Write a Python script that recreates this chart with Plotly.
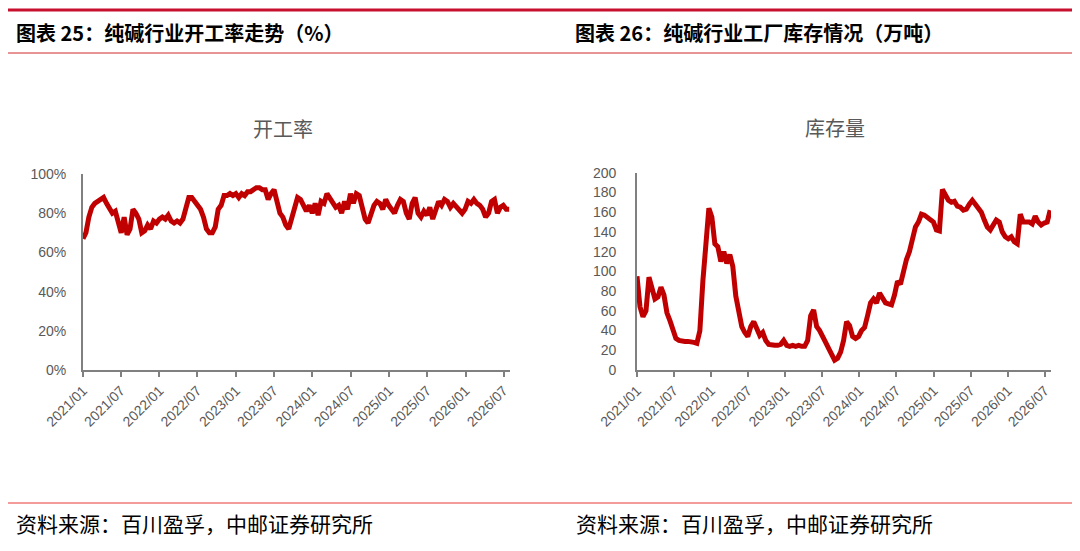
import pandas as pd
import plotly.graph_objects as go

# 开工率 (%), roughly every two weeks
rate_values = [
    67, 70, 78, 83, 85, 86, 86.5, 88, 85, 82, 80, 81, 76, 70, 78, 69, 72, 82, 80, 77,
    70, 71, 74, 72, 76, 75, 77, 78, 77, 79, 76, 75, 76, 75, 77, 84, 88, 88, 86, 84,
    82, 78, 72, 70, 70, 73, 82, 84, 89, 89, 90, 89, 90, 88, 90, 89, 91, 91, 92, 93,
    93, 92, 92, 87, 90, 92, 86, 80, 78, 74, 72, 78, 84, 88, 87, 84, 81, 84, 80, 85,
    79, 86, 85, 90, 88, 86, 83, 84, 80, 86, 82, 90, 85, 90, 89, 83, 77, 75, 80, 84,
    86, 85, 82, 87, 84, 82, 80, 84, 87, 86, 80, 77, 85, 88, 80, 78, 81, 79, 83, 77,
    81, 86, 84, 87, 86, 83, 85, 83, 82, 80, 82, 86, 85, 87, 85, 84, 82, 78, 80, 86,
    87, 80, 83, 84, 82, 82,
]

# 库存量 (万吨)
stock_values = [
    95, 64, 54, 60, 94, 81, 72, 74, 84, 76, 58, 50, 40, 32, 30, 29, 29, 29, 29, 28,
    27, 40, 90, 130, 164, 155, 128, 125, 110, 120, 108, 117, 105, 75, 58, 44, 38, 34, 44, 49,
    42, 35, 38, 30, 26, 25, 25, 25, 26, 30, 25, 24, 25, 24, 25, 24, 24, 30, 55, 61,
    44, 40, 35, 28, 22, 17, 10, 12, 18, 30, 49, 45, 34, 32, 34, 40, 43, 55, 68, 72,
    68, 78, 72, 68, 67, 66, 76, 90, 87, 100, 112, 120, 135, 145, 150, 158, 157, 155, 153, 150,
    142, 141, 183, 177, 172, 170, 171, 166, 165, 162, 163, 168, 172, 168, 164, 160, 152, 145, 142, 146,
    152, 150, 140, 135, 133, 135, 130, 128, 158, 150, 150, 150, 148, 156, 150, 147, 149, 150, 162,
]

rate_dates = pd.date_range("2021-01-01", "2026-07-28", periods=len(rate_values))
stock_dates = pd.date_range("2021-01-01", "2026-07-28", periods=len(stock_values))

header_left = "图表 25：纯碱行业开工率走势（%）"
header_right = "图表 26：纯碱行业工厂库存情况（万吨）"
source_text = "资料来源：百川盈孚，中邮证券研究所"

# the page body keeps its 8px margin, so the figure is 8px smaller than the window
OFF = 8
W, H = 1080 - OFF, 551 - OFF
LINE_RED = "#C00000"
AXIS_GRAY = "#808080"
TEXT_GRAY = "#595959"
TICK_FONT = dict(family="Liberation Sans", size=14, color=TEXT_GRAY)
CJK = "Noto Sans CJK SC"


def px_x(v):
    return max(0.0, (v - OFF) / W)


def px_y(v):
    return 1 - (v - OFF) / H


fig = go.Figure()
fig.add_trace(go.Scatter(x=rate_dates, y=rate_values, mode="lines",
                         line=dict(color=LINE_RED, width=5), xaxis="x", yaxis="y",
                         showlegend=False))
fig.add_trace(go.Scatter(x=stock_dates, y=stock_values, mode="lines",
                         line=dict(color=LINE_RED, width=5), xaxis="x2", yaxis="y2",
                         showlegend=False))

xaxis_common = dict(
    type="date", range=["2021-01-01", "2026-08-01"], tick0="2021-01-01", dtick="M6",
    tickformat="%Y/%m", tickangle=-45, ticks="outside", ticklen=5, tickwidth=1.5,
    tickcolor=AXIS_GRAY, showline=True, linecolor=AXIS_GRAY, linewidth=1.8,
    showgrid=False, zeroline=False, tickfont=TICK_FONT, automargin=False,
)
yaxis_common = dict(
    showline=True, linecolor=AXIS_GRAY, linewidth=1.8, showgrid=False, zeroline=False,
    ticks="", tickfont=TICK_FONT, automargin=False,
)

fig.update_layout(
    width=W, height=H, margin=dict(l=0, r=0, t=0, b=0, autoexpand=False),
    paper_bgcolor="white", plot_bgcolor="white",
    xaxis=dict(xaxis_common, domain=[px_x(83), px_x(510)], anchor="y"),
    yaxis=dict(yaxis_common, domain=[px_y(370), px_y(174)], anchor="x",
               range=[0, 100], dtick=20, ticksuffix="%", ticklabelstandoff=12),
    xaxis2=dict(xaxis_common, domain=[px_x(637), px_x(1051)], anchor="y2"),
    yaxis2=dict(yaxis_common, domain=[px_y(370), px_y(172.7)], anchor="x2",
                range=[0, 200], dtick=20, ticklabelstandoff=16),
)

# header and footer rules
shapes = [
    dict(y=10, width=3, color="#C8102E"),
    dict(y=53, width=1.5, color="#E07070"),
    dict(y=503, width=1.2, color="#E53935"),
]
for s in shapes:
    fig.add_shape(type="line", xref="paper", yref="paper",
                  x0=px_x(7), x1=1, y0=px_y(s["y"]), y1=px_y(s["y"]),
                  line=dict(color=s["color"], width=s["width"]))

annotations = [
    dict(text=f"<b>{header_left}</b>", x=14, y=32, size=20, color="black", anchor="left"),
    dict(text=f"<b>{header_right}</b>", x=573, y=32, size=20, color="black", anchor="left"),
    dict(text="开工率", x=283, y=128, size=20, color=TEXT_GRAY, anchor="center"),
    dict(text="库存量", x=835, y=127, size=20, color=TEXT_GRAY, anchor="center"),
    dict(text=source_text, x=14, y=523, size=21, color="black", anchor="left"),
    dict(text=source_text, x=574, y=523, size=21, color="black", anchor="left"),
]
for a in annotations:
    fig.add_annotation(text=a["text"], xref="paper", yref="paper",
                       x=px_x(a["x"]), y=px_y(a["y"]), xanchor=a["anchor"], yanchor="middle",
                       showarrow=False, font=dict(family=CJK, size=a["size"], color=a["color"]))

fig.write_html("out.html")
